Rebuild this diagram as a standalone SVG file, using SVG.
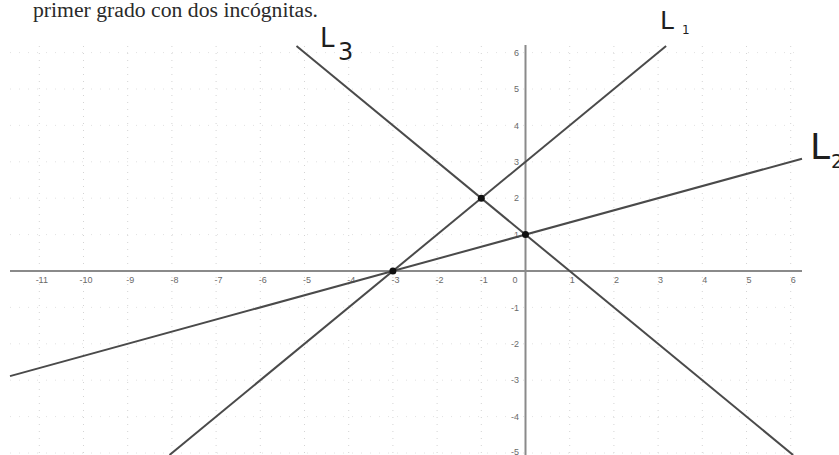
<svg xmlns="http://www.w3.org/2000/svg" width="839" height="455" viewBox="0 0 839 455">
<style>
.grid{stroke:#d4d4d4;stroke-width:1;stroke-dasharray:1 6;fill:none}
.gridh{stroke:#e2e2e2;stroke-width:1;stroke-dasharray:1 8;fill:none}
.axis{stroke:#8a8a8a;stroke-width:2;fill:none}
.line{stroke:#4a4a4a;stroke-width:2;fill:none}
.tick{font-family:"Liberation Sans",Arial,sans-serif;font-size:9px;fill:#6a6a6a}
.hand{font-family:"DejaVu Sans","Liberation Sans",sans-serif;fill:#1e1e1e}
.title{font-family:"Liberation Serif","Times New Roman",serif;font-size:20px;fill:#2a2a2a}
.dot{fill:#111}
</style>
<rect width="839" height="455" fill="#ffffff"/>
<text class="title" x="33" y="17" textLength="285" lengthAdjust="spacingAndGlyphs">primer grado con dos incógnitas.</text>
<g id="grid">
<path class="grid" d="M39.3 46V455M83.5 46V455M127.7 46V455M171.9 46V455M216.1 46V455M260.3 46V455M304.5 46V455M348.7 46V455M392.9 46V455M437.1 46V455M481.3 46V455M569.7 46V455M613.9 46V455M658.1 46V455M702.3 46V455M746.5 46V455M790.7 46V455"/>
<path class="gridh" d="M10 52.6H802M10 89H802M10 125.4H802M10 161.8H802M10 198.2H802M10 234.6H802M10 307.4H802M10 343.8H802M10 380.2H802M10 416.6H802M10 453H802"/>
</g>
<g id="axes">
<line class="axis" x1="10" y1="271" x2="802" y2="271"/>
<line class="axis" x1="525.5" y1="45" x2="525.5" y2="455"/>
</g>
<g id="x-labels" class="tick" text-anchor="middle">
<text x="41.8" y="283">-11</text>
<text x="86" y="283">-10</text>
<text x="130.2" y="283">-9</text>
<text x="174.4" y="283">-8</text>
<text x="218.6" y="283">-7</text>
<text x="262.8" y="283">-6</text>
<text x="307" y="283">-5</text>
<text x="351.2" y="283">-4</text>
<text x="395.4" y="283">-3</text>
<text x="439.6" y="283">-2</text>
<text x="483.8" y="283">-1</text>
<text x="515" y="283">0</text>
<text x="572.2" y="283">1</text>
<text x="616.4" y="283">2</text>
<text x="660.6" y="283">3</text>
<text x="704.8" y="283">4</text>
<text x="749" y="283">5</text>
<text x="793.2" y="283">6</text>
</g>
<g id="y-labels" class="tick" text-anchor="end">
<text x="519" y="55.8">6</text>
<text x="519" y="92.2">5</text>
<text x="519" y="128.6">4</text>
<text x="519" y="165">3</text>
<text x="519" y="201.4">2</text>
<text x="519" y="237.8">1</text>
<text x="519" y="310.6">-1</text>
<text x="519" y="347">-2</text>
<text x="519" y="383.4">-3</text>
<text x="519" y="419.8">-4</text>
<text x="519" y="455">-5</text>
</g>
<g id="connectors">
<line id="L1" class="line" x1="169.5" y1="455" x2="666.1" y2="46"/>
<line id="L2" class="line" x1="10" y1="376.1" x2="802" y2="158.7"/>
<line id="L3" class="line" x1="296.5" y1="46" x2="793.1" y2="455"/>
</g>
<g id="point-A"><circle class="dot" cx="392.9" cy="271" r="3.5"/></g>
<g id="point-B"><circle class="dot" cx="481.3" cy="198.2" r="3.5"/></g>
<g id="point-C"><circle class="dot" cx="525.5" cy="234.6" r="3.5"/></g>
<g id="label-L3" class="hand">
<text x="320" y="47" font-size="26">L</text>
<text x="338" y="60" font-size="24">3</text>
</g>
<g id="label-L1" class="hand">
<text x="660" y="29" font-size="25">L</text>
<text x="682" y="34" font-size="12">1</text>
</g>
<g id="label-L2" class="hand">
<text x="810" y="159" font-size="36">L</text>
<text x="831" y="168" font-size="19">2</text>
</g>
</svg>
